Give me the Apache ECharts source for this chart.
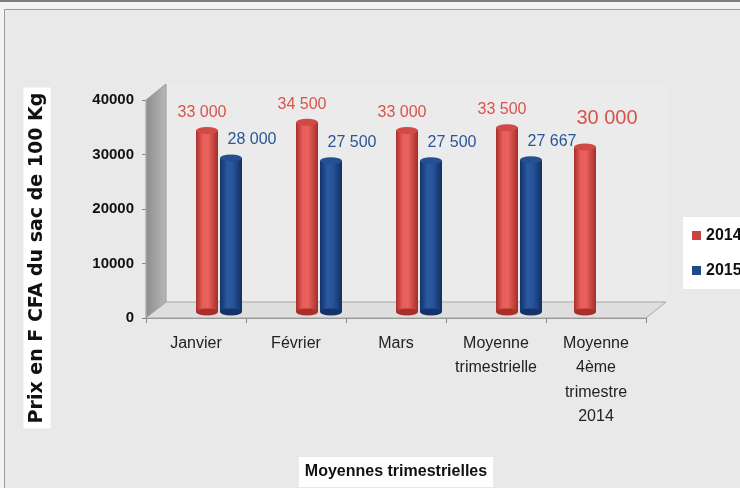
<!DOCTYPE html>
<html><head><meta charset="utf-8">
<script src="https://cdn.jsdelivr.net/npm/echarts@6/dist/echarts.min.js"></script>
<style>html,body{margin:0;padding:0;background:#f3f3f3}#c{width:740px;height:488px}</style>
</head><body><div id="c"></div>
<script>
// ---- data ----
const categories = ['Janvier', 'Février', 'Mars', 'Moyenne\ntrimestrielle', 'Moyenne\n4ème\ntrimestre\n2014'];
const values2014 = [33000, 34500, 33000, 33500, 30000];
const values2015 = [28000, 27500, 27500, 27667, null];
const yMin = 0, yMax = 40000, yStep = 10000;
const seriesNames = ['2014', '2015'];
const yTitle = 'Prix en F CFA du sac de 100 Kg';
const xTitle = 'Moyennes trimestrielles';

// ---- helpers ----
const lastIdx = categories.length - 1;
const fmt = v => String(v).replace(/\B(?=(\d{3})+(?!\d))/g, ' ');
const main2014 = values2014.map((v, i) => i === lastIdx ? '-' : v);
const last2014 = values2014.map((v, i) => i === lastIdx ? v : '-');
const data2015 = values2015.map(v => v == null ? '-' : v);

const redGrad = {type:'linear',x:0,y:0,x2:1,y2:0,colorStops:[
  {offset:0,color:'#a92f2b'},{offset:0.3,color:'#e85e58'},{offset:0.55,color:'#e9625c'},{offset:1,color:'#a52d29'}]};
const blueGrad = {type:'linear',x:0,y:0,x2:1,y2:0,colorStops:[
  {offset:0,color:'#13336a'},{offset:0.35,color:'#2c5aa2'},{offset:0.6,color:'#27539a'},{offset:1,color:'#112e5e'}]};
const RED = '#c9443f', BLUE = '#1f4a8a';
const labelFont = 'Liberation Sans, Arial, sans-serif';

const chart = echarts.init(document.getElementById('c'), null, {renderer:'canvas'});

const valAxisHidden = gi => ({type:'value', gridIndex:gi, min:yMin, max:yMax, interval:yStep, show:false});
const catAxisHidden = gi => ({type:'category', gridIndex:gi, data:categories, show:false});

const capSeries = (name, data, gi, color, pos) => ({
  type:'pictorialBar', name, xAxisIndex:gi, yAxisIndex:gi, data,
  symbol:'circle', symbolSize:[22, 7], symbolPosition:pos,
  symbolOffset:[0, pos === 'end' ? '-50%' : '50%'],
  barWidth:22, barGap:'9%', itemStyle:{color}, z:3, silent:true
});

const barGrid = {left:169, top:92, width:500, height:220};
const lastGrid = {left:135, top:92, width:500, height:220};

chart.setOption({
  animation:false,
  backgroundColor:'#f3f3f3',
  textStyle:{fontFamily:labelFont},
  grid:[
    {left:146, top:100, width:500, height:218},   // 0: axes grid
    barGrid,                                      // 1: bars (perspective-shifted)
    lastGrid,                                     // 2: single bar of last category
    barGrid,                                      // 3: bottom caps for grid 1
    lastGrid                                      // 4: bottom cap for grid 2
  ],
  legend:{
    orient:'vertical', left:683, top:217,
    data:[{name:seriesNames[0], itemStyle:{color:RED}}, {name:seriesNames[1], itemStyle:{color:BLUE}}],
    icon:'rect', itemWidth:9, itemHeight:9, itemGap:18,
    backgroundColor:'#ffffff', padding:[10, 10, 10, 9],
    textStyle:{fontSize:16, fontWeight:'bold', color:'#111', lineHeight:17, fontFamily:labelFont},
    selectedMode:false
  },
  xAxis:[
    {type:'category', gridIndex:0, data:categories,
     axisLine:{lineStyle:{color:'#9a9a9a', width:1}},
     axisTick:{show:true, length:5, lineStyle:{color:'#8a8a8a'}},
     axisLabel:{color:'#222', fontSize:16, lineHeight:24.5, margin:13, interval:0, fontFamily:labelFont},
     name:xTitle, nameLocation:'middle', nameGap:139,
     nameTextStyle:{fontSize:16, fontWeight:'bold', color:'#111', backgroundColor:'#ffffff', padding:[7, 6, 7, 6], fontFamily:labelFont}
    },
    catAxisHidden(1), catAxisHidden(2), catAxisHidden(3), catAxisHidden(4)
  ],
  yAxis:[
    {type:'value', gridIndex:0, min:yMin, max:yMax, interval:yStep,
     axisLine:{show:true, lineStyle:{color:'#a0a0a0'}},
     axisTick:{show:true, length:4, lineStyle:{color:'#8a8a8a'}},
     splitLine:{show:false},
     axisLabel:{color:'#111', fontSize:15, fontWeight:'bold', margin:12, fontFamily:labelFont,
                formatter:v => String(v)}
    },
    valAxisHidden(1), valAxisHidden(2), valAxisHidden(3), valAxisHidden(4)
  ],
  series:[
    {type:'bar', name:seriesNames[0], xAxisIndex:1, yAxisIndex:1, data:main2014,
     barWidth:22, barGap:'9%', itemStyle:{color:redGrad},
     label:{show:true, position:'top', distance:10, offset:[-5, 0], color:'#d8534e', fontSize:16,
            fontFamily:labelFont, formatter:p => fmt(p.value)}},
    {type:'bar', name:seriesNames[1], xAxisIndex:1, yAxisIndex:1, data:data2015,
     barWidth:22, barGap:'9%', itemStyle:{color:blueGrad},
     label:{show:true, position:'top', distance:10, offset:[21, 0], color:'#2a5597', fontSize:16,
            fontFamily:labelFont, formatter:p => fmt(p.value)}},
    {type:'bar', name:seriesNames[0], xAxisIndex:2, yAxisIndex:2, data:last2014,
     barWidth:22, itemStyle:{color:redGrad},
     label:{show:true, position:'top', distance:19, offset:[22, 0], color:'#d8534e', fontSize:20,
            fontFamily:labelFont, formatter:p => fmt(p.value)}},
    capSeries(seriesNames[0], main2014, 1, '#d24a45', 'end'),
    capSeries(seriesNames[1], data2015, 1, '#24508f', 'end'),
    capSeries(seriesNames[0], last2014, 2, '#d24a45', 'end'),
    capSeries(seriesNames[0], main2014, 3, '#a92f2b', 'start'),
    capSeries(seriesNames[1], data2015, 3, '#13336a', 'start'),
    capSeries(seriesNames[0], last2014, 4, '#a92f2b', 'start')
  ]
});

// ---- decorative 3D frame (side wall & floor), positioned from the axis scales ----
const px = (axis, v) => chart.convertToPixel(axis, v);
const y0 = px({yAxisIndex:0}, yMin), yTop = px({yAxisIndex:0}, yMax);
const c0 = px({xAxisIndex:0}, 0), c1 = px({xAxisIndex:0}, 1);
const band = c1 - c0;
const xL = c0 - band / 2, xR = px({xAxisIndex:0}, lastIdx) + band / 2;
const dx = 20, dy = -16;

chart.setOption({
  graphic:[
    {type:'rect', z:-100, shape:{x:0, y:0, width:740, height:2}, style:{fill:'#7d7d7d'}},
    {type:'rect', z:-99, shape:{x:4.5, y:9.5, width:800, height:600},
     style:{fill:'#e9e9e9', stroke:'#9a9a9a', lineWidth:1}},
    {type:'rect', z:-98, shape:{x:xL + dx, y:yTop + dy, width:xR - xL, height:y0 - yTop},
     style:{fill:'rgba(255,255,255,0.12)'}},
    {type:'polygon', z:-50, shape:{points:[[xL, yTop], [xL + dx, yTop + dy], [xL + dx, y0 + dy], [xL, y0]]},
     style:{fill:{type:'linear',x:0,y:0,x2:1,y2:0,colorStops:[{offset:0,color:'#8c8c8c'},{offset:1,color:'#b8b8b8'}]},
            stroke:'#9a9a9a', lineWidth:1}},
    {type:'polygon', z:-50, shape:{points:[[xL, y0], [xL + dx, y0 + dy], [xR + dx, y0 + dy], [xR, y0]]},
     style:{fill:'#dedede', stroke:'#a5a5a5', lineWidth:1}},
    {type:'text', z:10, x:37, y:258, rotation:Math.PI / 2,
     style:{text:yTitle, x:0, y:0, align:'center', verticalAlign:'middle',
            font:'bold 19px "DejaVu Sans", sans-serif', fill:'#111',
            backgroundColor:'#ffffff', padding:[4, 5, 4, 5]}}
  ]
});
</script>
</body></html>
